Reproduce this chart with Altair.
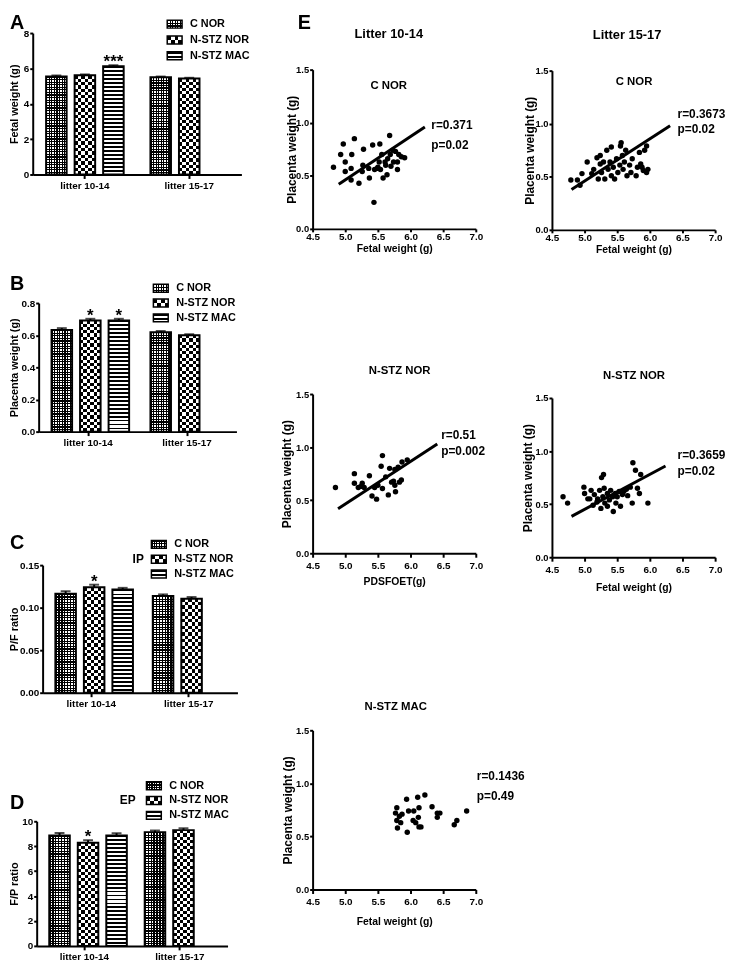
import altair as alt
import pandas as pd

FONT = "Liberation Sans, Arial, Helvetica, sans-serif"

# ---------------- data ----------------
litters = ["litter 10-14", "litter 15-17"]
series = ["C NOR", "N-STZ NOR", "N-STZ MAC"]
bar_litter = ["litter 10-14", "litter 10-14", "litter 10-14", "litter 15-17", "litter 15-17"]
bar_series = ["C NOR", "N-STZ NOR", "N-STZ MAC", "C NOR", "N-STZ NOR"]

fetal_mean = [5.55, 5.61, 6.12, 5.50, 5.43]
fetal_err = [0.05, 0.05, 0.06, 0.04, 0.04]
fetal_sig = ["", "", "***", "", ""]

placenta_mean = [0.632, 0.692, 0.692, 0.618, 0.600]
placenta_err = [0.012, 0.010, 0.010, 0.008, 0.006]
placenta_sig = ["", "*", "*", "", ""]

pf_mean = [0.1163, 0.1240, 0.1213, 0.1136, 0.1105]
pf_err = [0.003, 0.003, 0.002, 0.002, 0.002]
pf_sig = ["", "*", "", "", ""]

fp_mean = [8.86, 8.28, 8.86, 9.13, 9.29]
fp_err = [0.20, 0.20, 0.18, 0.13, 0.15]
fp_sig = ["", "*", "", "", ""]

# scatter: litter 10-14 C NOR
s1_x = [4.82, 4.97, 4.93, 5.00, 5.00, 5.09, 5.10, 5.09, 5.14, 5.21, 5.26, 5.27, 5.28, 5.36, 5.37,
        5.42, 5.44, 5.49, 5.52, 5.53, 5.54, 5.56, 5.58, 5.61, 5.62, 5.64, 5.65, 5.68, 5.69, 5.70,
        5.73, 5.74, 5.77, 5.80, 5.80, 5.82, 5.86, 5.91, 5.45, 5.50]
s1_y = [0.58, 0.80, 0.70, 0.63, 0.54, 0.57, 0.70, 0.46, 0.85, 0.43, 0.54, 0.60, 0.75, 0.57, 0.48,
        0.79, 0.25, 0.57, 0.63, 0.80, 0.56, 0.70, 0.48, 0.63, 0.60, 0.51, 0.66, 0.88, 0.70, 0.59,
        0.74, 0.63, 0.73, 0.56, 0.63, 0.70, 0.68, 0.67, 0.56, 0.58]
s1_line_x = [4.90, 6.22]
s1_line_y = [0.42, 0.96]

# scatter: litter 15-17 C NOR
s2_x = [4.79, 4.89, 4.93, 4.96, 5.04, 5.11, 5.14, 5.19, 5.21, 5.24, 5.24, 5.26, 5.29, 5.31, 5.34,
        5.36, 5.39, 5.41, 5.41, 5.44, 5.46, 5.49, 5.51, 5.54, 5.55, 5.56, 5.58, 5.59, 5.61, 5.63,
        5.65, 5.69, 5.71, 5.73, 5.79, 5.81, 5.84, 5.86, 5.88, 5.90, 5.92, 5.95, 5.95, 5.97]
s2_y = [0.47, 0.47, 0.42, 0.53, 0.64, 0.53, 0.57, 0.68, 0.48, 0.62, 0.70, 0.54, 0.64, 0.48, 0.75,
        0.57, 0.64, 0.51, 0.78, 0.59, 0.48, 0.67, 0.54, 0.61, 0.79, 0.82, 0.70, 0.57, 0.64, 0.75,
        0.51, 0.61, 0.54, 0.67, 0.51, 0.59, 0.73, 0.62, 0.59, 0.56, 0.75, 0.79, 0.54, 0.57]
s2_line_x = [4.80, 6.31]
s2_line_y = [0.38, 0.98]

# scatter: litter 10-14 N-STZ NOR
s3_x = [4.85, 5.14, 5.14, 5.20, 5.24, 5.26, 5.29, 5.37, 5.41, 5.45, 5.48, 5.50, 5.55, 5.57,
        5.57, 5.62, 5.66, 5.68, 5.71, 5.74, 5.76, 5.77, 5.76, 5.81, 5.83, 5.86, 5.87, 5.95]
s3_y = [0.62, 0.66, 0.75, 0.62, 0.63, 0.66, 0.62, 0.73, 0.54, 0.62, 0.51, 0.64, 0.82, 0.92,
        0.61, 0.72, 0.55, 0.80, 0.67, 0.68, 0.64, 0.58, 0.79, 0.81, 0.67, 0.69, 0.86, 0.88]
s3_line_x = [4.89, 6.41]
s3_line_y = [0.42, 1.03]

# scatter: litter 15-17 N-STZ NOR
s4_x = [4.67, 4.74, 4.99, 5.00, 5.08, 5.10, 5.13, 5.15, 5.19, 5.23, 5.25, 5.26, 5.28, 5.29, 5.30,
        5.31, 5.35, 5.38, 5.40, 5.43, 5.44, 5.47, 5.48, 5.50, 5.53, 5.55, 5.58, 5.64, 5.66, 5.70,
        5.73, 5.74, 5.78, 5.81, 5.84, 5.86, 5.97, 5.60, 5.20, 5.35, 5.05]
s4_y = [0.57, 0.51, 0.66, 0.60, 0.55, 0.63, 0.49, 0.59, 0.52, 0.63, 0.46, 0.75, 0.57, 0.78, 0.65,
        0.51, 0.60, 0.54, 0.63, 0.57, 0.43, 0.60, 0.51, 0.57, 0.62, 0.48, 0.59, 0.64, 0.58, 0.66,
        0.51, 0.89, 0.82, 0.65, 0.60, 0.78, 0.51, 0.62, 0.55, 0.48, 0.55]
s4_line_x = [4.80, 6.24]
s4_line_y = [0.385, 0.86]

# scatter: litter 10-14 N-STZ MAC
s5_x = [5.77, 5.79, 5.79, 5.80, 5.83, 5.85, 5.87, 5.94, 5.95, 5.97, 6.04, 6.05, 6.08, 6.11, 6.12,
        6.13, 6.13, 6.16, 6.22, 6.33, 6.41, 6.41, 6.45, 6.67, 6.71, 6.86]
s5_y = [0.72, 0.77, 0.65, 0.58, 0.69, 0.63, 0.71, 0.85, 0.54, 0.74, 0.65, 0.74, 0.63, 0.87, 0.68,
        0.77, 0.59, 0.59, 0.89, 0.78, 0.68, 0.72, 0.72, 0.61, 0.65, 0.74]

ONE = pd.DataFrame({"k": [0]})
CLEAR = "rgba(0,0,0,0)"


# ---------------- helpers ----------------
def stripes(n, direction, on, off, duty):
    stops = []
    for i in range(n):
        a, b, c = i / n, (i + duty) / n, (i + 1) / n
        stops += [{"offset": a, "color": on}, {"offset": b, "color": on},
                  {"offset": b, "color": off}, {"offset": c, "color": off}]
    g = {"gradient": "linear", "stops": stops}
    if direction == "v":
        g.update(x1=0, y1=0, x2=1, y2=0)
    else:
        g.update(x1=0, y1=0, x2=0, y2=1)
    return g


def pattern(kind, w, h):
    if kind == "C NOR":
        p = 2.6
        return [("white", None),
                (stripes(max(1, round(w / p)), "v", "black", CLEAR, 0.45), None),
                (stripes(max(1, round(h / p)), "h", "black", CLEAR, 0.45), None)]
    if kind == "N-STZ NOR":
        p = 6.6
        return [("black", None),
                (stripes(max(1, round(w / p)), "v", "white", CLEAR, 0.5), None),
                (stripes(max(1, round(h / p)), "h", "white", CLEAR, 0.5), "difference")]
    p = 4.0
    return [("white", None),
            (stripes(max(1, round(h / p)), "h", "black", CLEAR, 0.45), None)]


def spacer(w, h):
    # invisible rect kept inside its own box, so it adds nothing outside the layout
    return alt.Chart(ONE).mark_rect(opacity=0).encode(
        x=alt.value(0), x2=alt.value(w), y=alt.value(0), y2=alt.value(h)
    ).properties(width=w, height=h)


def label(text, x, y, size, align="left", baseline="middle"):
    return alt.Chart(ONE).mark_text(
        text=text, font=FONT, fontSize=size, fontWeight="bold", color="black",
        align=align, baseline=baseline).encode(x=alt.value(x), y=alt.value(y))


BAR_PANELS = [
    dict(letter="A", mean=fetal_mean, err=fetal_err, sig=fetal_sig, ymax=8,
         ticks=[0, 2, 4, 6, 8], fmt="d", ytitle="Fetal weight (g)",
         left=24, W=211, H=143, letter_y=-4,
         leg_x=136, leg_y=[-9, 7, 23], tag=None, tag_x=0),
    dict(letter="B", mean=placenta_mean, err=placenta_err, sig=placenta_sig, ymax=0.8,
         ticks=[0, 0.2, 0.4, 0.6, 0.8], fmt=".1f", ytitle="Placenta weight (g)",
         left=30, W=200, H=130, letter_y=-13,
         leg_x=116, leg_y=[-15, 0, 15], tag=None, tag_x=0),
    dict(letter="C", mean=pf_mean, err=pf_err, sig=pf_sig, ymax=0.15,
         ticks=[0, 0.05, 0.10, 0.15], fmt=".2f", ytitle="P/F ratio",
         left=34, W=197, H=129, letter_y=-16,
         leg_x=110, leg_y=[-21, -6, 9], tag="IP", tag_x=91),
    dict(letter="D", mean=fp_mean, err=fp_err, sig=fp_sig, ymax=10,
         ticks=[0, 2, 4, 6, 8, 10], fmt="d", ytitle="F/P ratio",
         left=28, W=193, H=126, letter_y=-12,
         leg_x=111, leg_y=[-36, -21, -6], tag="EP", tag_x=84),
]


def bar_panel(cfg):
    W, H, ymax = cfg["W"], cfg["H"], cfg["ymax"]
    df = pd.DataFrame({"litter": bar_litter, "series": bar_series,
                       "value": cfg["mean"], "err": cfg["err"], "sig": cfg["sig"]})
    xs = alt.Scale(domain=litters, paddingInner=0.18, paddingOuter=0.09)
    xos = alt.Scale(domain=series, paddingInner=0.28, paddingOuter=0.14)
    ys = alt.Scale(domain=[0, ymax], nice=False, zero=True)
    xaxis = alt.Axis(title=None, labelAngle=0, labelFont=FONT, labelFontWeight="bold",
                     labelFontSize=10, labelColor="black", domainColor="black", domainWidth=2,
                     tickColor="black", tickWidth=2, tickSize=4, labelPadding=2)
    yaxis = alt.Axis(values=cfg["ticks"], format=cfg["fmt"], title=cfg["ytitle"], grid=False,
                     titleX=6 - cfg["left"], titleY=H / 2, titleAngle=270,
                     titleAlign="center", titleBaseline="middle", titleFont=FONT,
                     titleFontWeight="bold", titleFontSize=11, titleColor="black",
                     labelFont=FONT, labelFontWeight="bold", labelFontSize=10,
                     labelColor="black", domainColor="black", domainWidth=2,
                     tickColor="black", tickWidth=2, tickSize=3, labelPadding=1)
    X = alt.X("litter:N", scale=xs, axis=xaxis)
    XO = alt.XOffset("series:N", scale=xos)
    base = alt.Chart(df)

    step = W / (2 - 0.18 + 2 * 0.09)
    group = step * (1 - 0.18)
    sub = group / (3 - 0.28 + 2 * 0.14)
    bw = sub * (1 - 0.28)

    layers = []
    for i in range(len(bar_series)):
        s, l = bar_series[i], bar_litter[i]
        bh = cfg["mean"][i] / ymax * H
        sel = base.transform_filter((alt.datum.litter == l) & (alt.datum.series == s))
        enc = dict(x=X, xOffset=XO, y=alt.Y("value:Q", scale=ys, axis=yaxis))
        for fill, blend in pattern(s, bw, bh):
            kw = dict(fill=fill)
            if blend:
                kw["blend"] = blend
            layers.append(sel.mark_bar(**kw).encode(**enc))
        layers.append(sel.mark_bar(fill="white", fillOpacity=0, stroke="black",
                                   strokeWidth=2).encode(**enc))

    up = base.transform_calculate(upper="datum.value + datum.err")
    layers.append(up.mark_rule(color="black", strokeWidth=2).encode(
        x=X, xOffset=XO, y=alt.Y("value:Q", scale=ys, axis=yaxis), y2="upper:Q"))
    layers.append(up.mark_tick(color="black", thickness=2, size=10).encode(
        x=X, xOffset=XO, y=alt.Y("upper:Q", scale=ys, axis=yaxis)))
    layers.append(up.transform_filter(alt.datum.sig != "").mark_text(
        font=FONT, fontWeight="bold", fontSize=17, baseline="alphabetic", dy=2,
        color="black").encode(x=X, xOffset=XO, y=alt.Y("upper:Q", scale=ys, axis=yaxis),
                              text="sig:N"))

    # legend
    sw, sh = 15, 8
    x0 = cfg["leg_x"]
    for k, s in enumerate(series):
        yc = cfg["leg_y"][k]
        enc = dict(x=alt.value(x0), x2=alt.value(x0 + sw), y=alt.value(yc - sh / 2),
                   y2=alt.value(yc + sh / 2))
        for fill, blend in pattern(s, sw, sh):
            kw = dict(fill=fill)
            if blend:
                kw["blend"] = blend
            layers.append(alt.Chart(ONE).mark_rect(**kw).encode(**enc))
        layers.append(alt.Chart(ONE).mark_rect(fill="white", fillOpacity=0, stroke="black",
                                               strokeWidth=1.5).encode(**enc))
        layers.append(label(s, x0 + sw + 8, yc, 11))
    if cfg["tag"]:
        layers.append(label(cfg["tag"], cfg["tag_x"], cfg["leg_y"][1], 12))
    layers.append(label(cfg["letter"], 1 - cfg["left"], cfg["letter_y"], 20,
                        baseline="alphabetic"))
    return alt.layer(*layers).properties(width=W, height=H)


SW, SH = 165, 161


def scatter(xv, yv, lx, ly, sub, sub_pos, r, p, r_pos, p_pos, xtitle, xt_y, lab_pad,
            tick, yt_x, extra=()):
    pts = pd.DataFrame({"fw": xv, "pw": yv})
    xsc = alt.Scale(domain=[4.5, 7.0], nice=False, zero=False)
    ysc = alt.Scale(domain=[0, 1.5], nice=False, zero=True)
    xaxis = alt.Axis(values=[4.5, 5.0, 5.5, 6.0, 6.5, 7.0], format=".1f", title=xtitle,
                     titleX=SW / 2, titleY=xt_y, titleAlign="center", titleBaseline="middle",
                     titleFont=FONT, titleFontSize=10.5, titleFontWeight="bold",
                     titleColor="black", labelFont=FONT, labelFontSize=10,
                     labelFontWeight="bold", labelColor="black", labelFlush=False,
                     domainColor="black", domainWidth=2, tickColor="black", tickWidth=2,
                     tickSize=tick, labelPadding=lab_pad, grid=False)
    yaxis = alt.Axis(values=[0.0, 0.5, 1.0, 1.5], format=".1f", title="Placenta weight (g)",
                     titleX=yt_x, titleY=SH / 2, titleAngle=270, titleAlign="center",
                     titleBaseline="middle", titleFont=FONT, titleFontSize=12,
                     titleFontWeight="bold", titleColor="black", labelFont=FONT,
                     labelFontSize=9.5, labelFontWeight="bold", labelColor="black",
                     domainColor="black", domainWidth=2, tickColor="black", tickWidth=2,
                     tickSize=3, labelPadding=1, grid=False)
    X = alt.X("fw:Q", scale=xsc, axis=xaxis)
    Y = alt.Y("pw:Q", scale=ysc, axis=yaxis)
    layers = [alt.Chart(pts).mark_circle(size=30, color="black", opacity=1).encode(x=X, y=Y)]
    if lx:
        ln = pd.DataFrame({"fw": lx, "pw": ly})
        layers.append(alt.Chart(ln).mark_line(color="black", strokeWidth=3).encode(x=X, y=Y))
    layers.append(label(sub, sub_pos[0], sub_pos[1], 11.5, align="center"))
    layers.append(label(r, r_pos[0], r_pos[1], 12))
    layers.append(label(p, p_pos[0], p_pos[1], 12))
    for t, x, y, size, al, bl in extra:
        layers.append(label(t, x, y, size, align=al, baseline=bl))
    return alt.layer(*layers).properties(width=SW, height=SH)


S1 = scatter(s1_x, s1_y, s1_line_x, s1_line_y, "C NOR", (77, 17), "r=0.371", "p=0.02",
             (120, 56), (120, 76), "Fetal weight (g)", 20, 0, 3, -21,
             extra=[("Litter 10-14", 77, -36, 13, "center", "middle"),
                    ("E", -15, -41, 20, "left", "alphabetic")])
S2 = scatter(s2_x, s2_y, s2_line_x, s2_line_y, "C NOR", (83, 12), "r=0.3673", "p=0.02",
             (127, 44), (127, 59), "Fetal weight (g)", 20, 0, 3, -23,
             extra=[("Litter 15-17", 76, -36, 13, "center", "middle")])
S3 = scatter(s3_x, s3_y, s3_line_x, s3_line_y, "N-STZ NOR", (88, -23), "r=0.51", "p=0.002",
             (130, 41), (130, 58), "PDSFOET(g)", 29, 3, 4, -26)
S4 = scatter(s4_x, s4_y, s4_line_x, s4_line_y, "N-STZ NOR", (83, -22), "r=0.3659", "p=0.02",
             (127, 58), (127, 74), "Fetal weight (g)", 31, 3, 4, -25)
S5 = scatter(s5_x, s5_y, None, None, "N-STZ MAC", (84, -24), "r=0.1436", "p=0.49",
             (166, 46), (166, 66), "Fetal weight (g)", 32, 3, 4, -25)

A, B, C, D = [bar_panel(c) for c in BAR_PANELS]


def place(x, item):
    # nested concat: counts as zero size inside the flush parent layout
    return alt.hconcat(spacer(x, 1), item, spacing=0, bounds="flush")


left_col = alt.vconcat(spacer(1, 20), place(24, A), spacer(1, 273), place(30, B),
                       spacer(1, 265), place(34, C), spacer(1, 259), place(28, D),
                       spacing=0, bounds="flush")
col1 = alt.vconcat(spacer(1, 57), S1, spacer(1, 167), S3, spacer(1, 179), S5,
                   spacing=0, bounds="flush")
col2 = alt.vconcat(spacer(1, 58), S2, spacer(1, 170), S4, spacing=0, bounds="flush")

chart = alt.hconcat(left_col, spacer(307, 1), col1, spacer(242, 1), col2,
                    spacing=0, bounds="flush").properties(padding=0).configure_view(
    strokeWidth=0)

chart.save("out.html", embed_options={"renderer": "svg", "actions": False})
